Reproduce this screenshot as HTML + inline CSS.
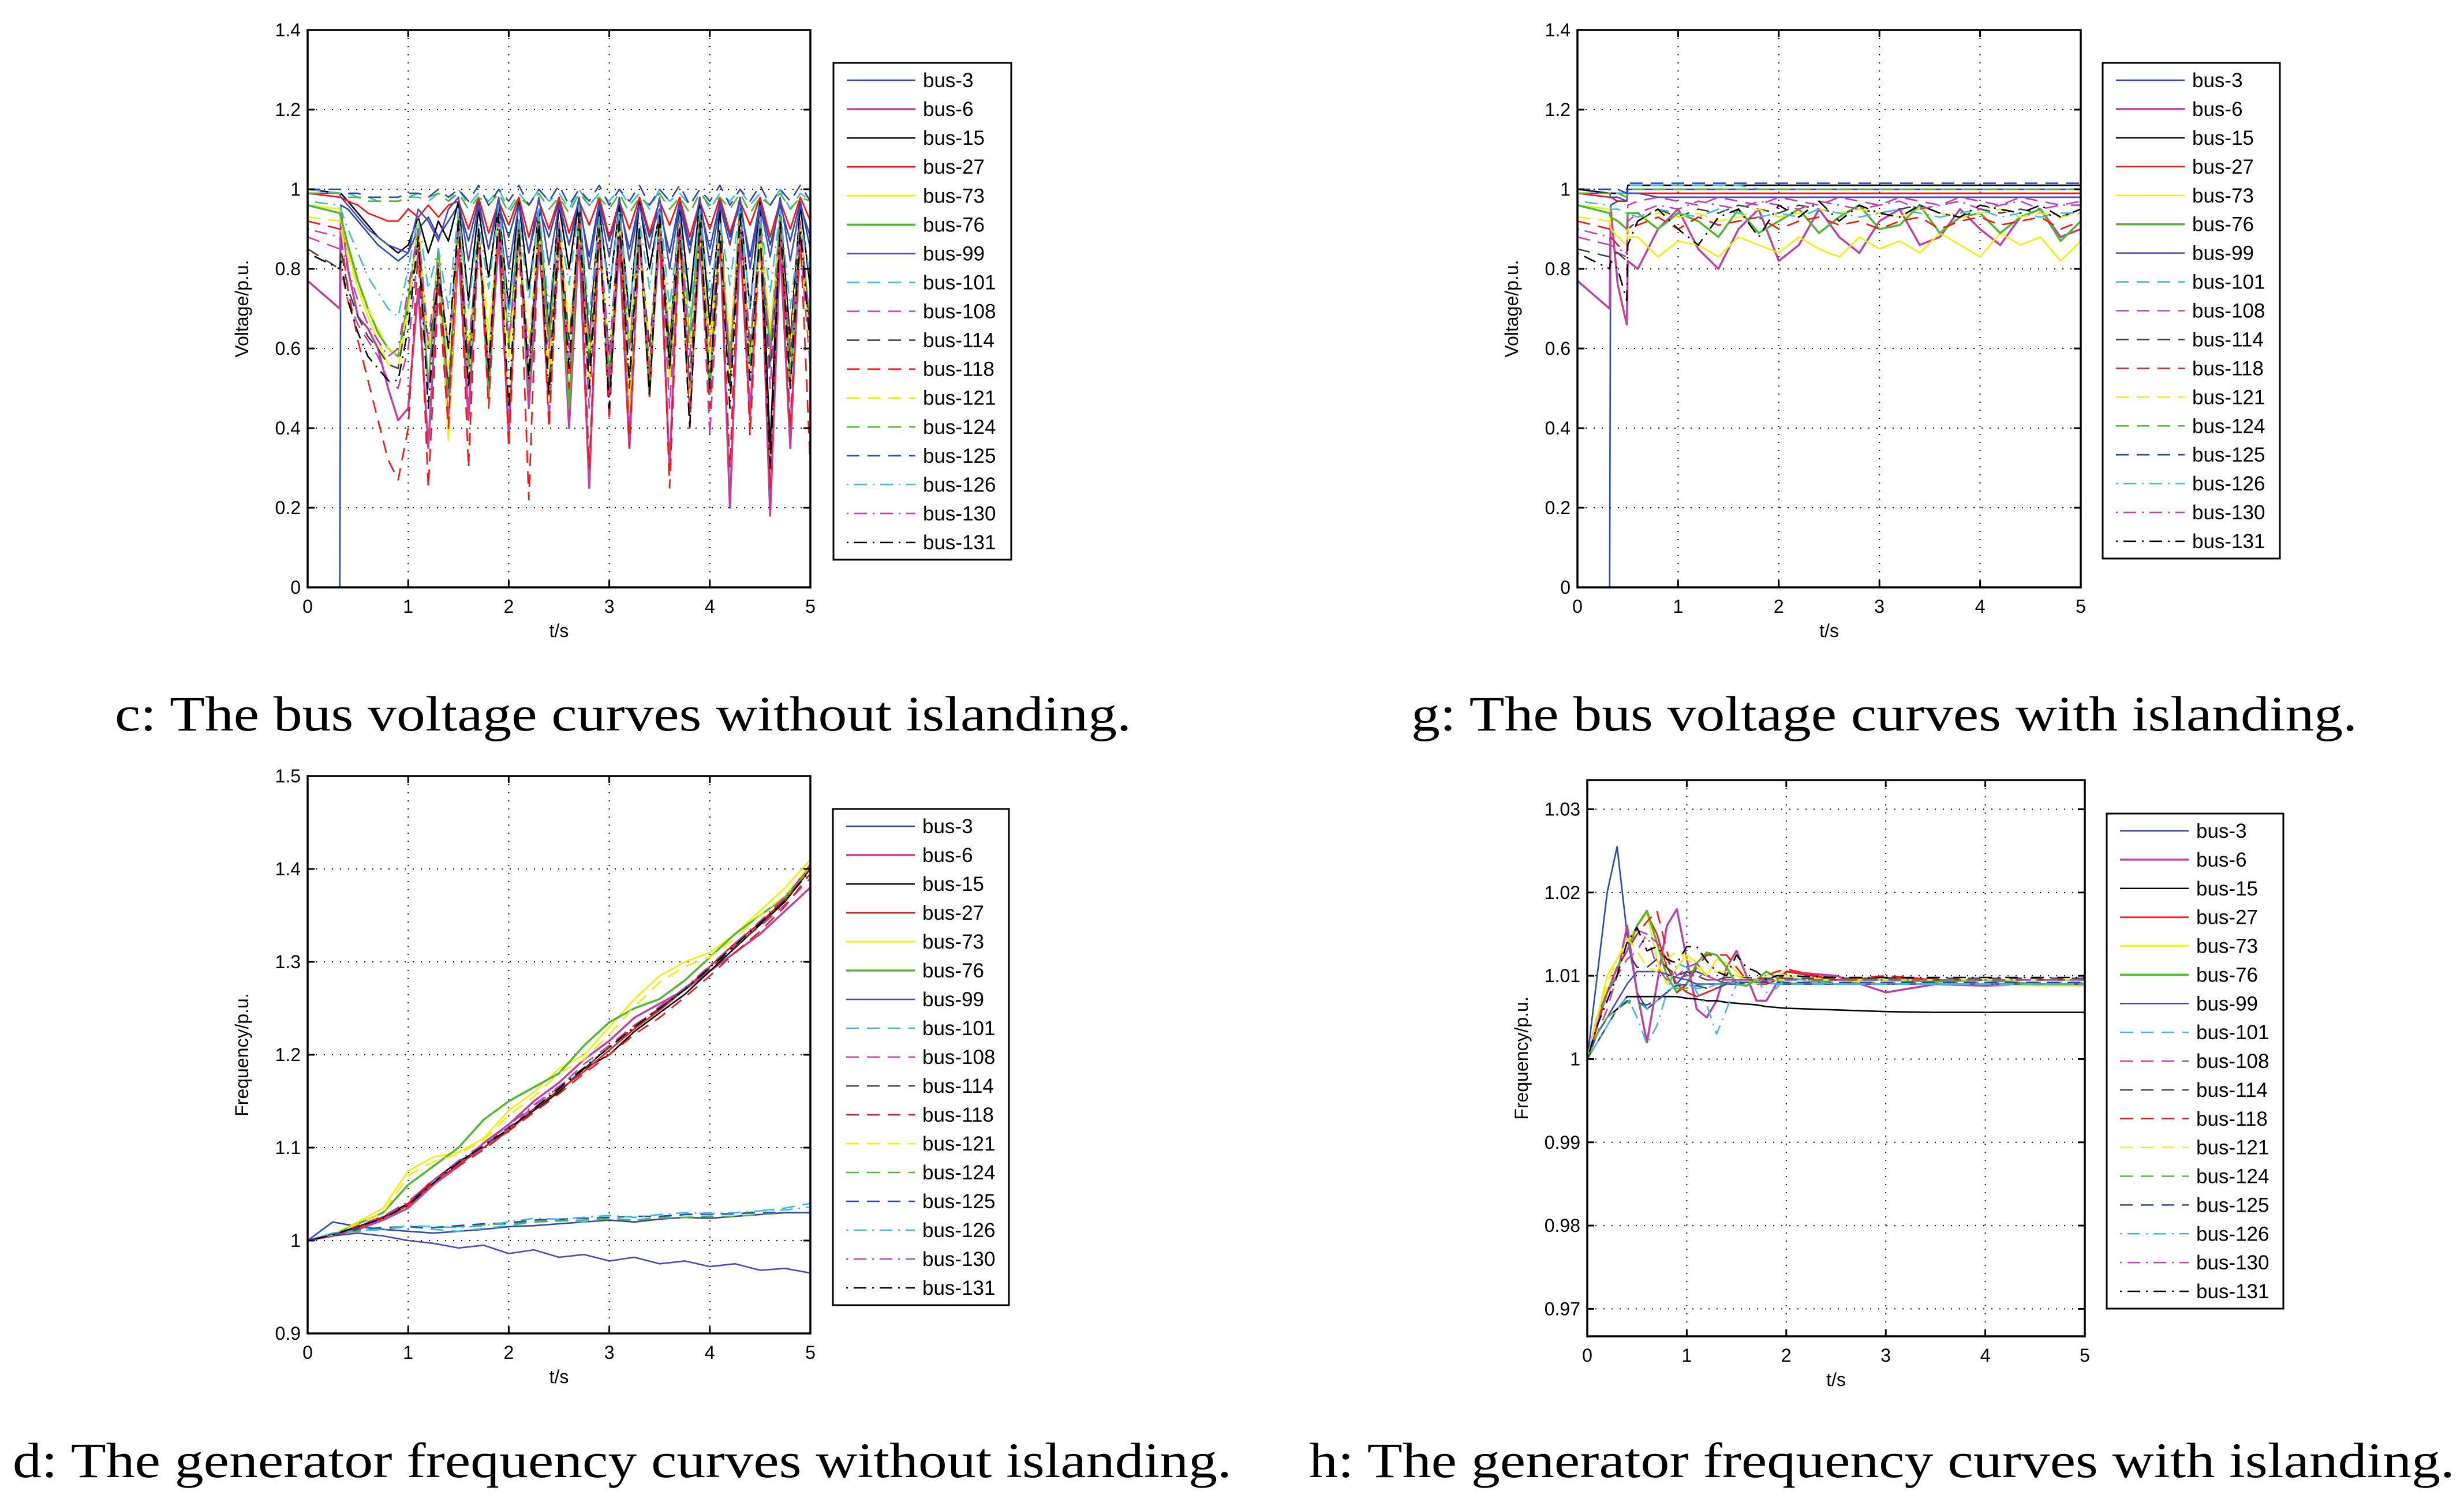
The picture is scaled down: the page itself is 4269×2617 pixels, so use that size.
<!DOCTYPE html>
<html><head><meta charset="utf-8"><style>
body{margin:0;background:#fff}
svg{display:block}
text{font-family:"Liberation Sans",Arial,sans-serif}
text.cap{font-family:"Liberation Serif","Times New Roman",serif}
</style></head><body>
<svg id="fig" width="4269" height="2617" viewBox="0 0 4269 2617" xmlns="http://www.w3.org/2000/svg">
<rect width="4269" height="2617" fill="#fff"/>
<text class="cap" font-family="Liberation Serif, serif" x="199" y="1266" font-size="86" textLength="1761" lengthAdjust="spacingAndGlyphs">c: The bus voltage curves without islanding.</text>
<text class="cap" font-family="Liberation Serif, serif" x="2445" y="1266" font-size="86" textLength="1639" lengthAdjust="spacingAndGlyphs">g: The bus voltage curves with islanding.</text>
<text class="cap" font-family="Liberation Serif, serif" x="22" y="2560" font-size="86" textLength="2112" lengthAdjust="spacingAndGlyphs">d: The generator frequency curves without islanding.</text>
<text class="cap" font-family="Liberation Serif, serif" x="2268" y="2560" font-size="86" textLength="1985" lengthAdjust="spacingAndGlyphs">h: The generator frequency curves with islanding.</text>
</svg>
<script>
const names=["bus-3","bus-6","bus-15","bus-27","bus-73","bus-76","bus-99","bus-101","bus-108","bus-114","bus-118","bus-121","bus-124","bus-125","bus-126","bus-130","bus-131"];
const colors=["#2b48b0","#c040a0","#000000","#ff1010","#f0f000","#50b830","#4848c0","#40b8e0","#c040b0","#404040","#ff1010","#f0f000","#50b830","#2b48b0","#40b8e0","#c040b0","#000000"];
const styles=["s","s","s","s","s","s","s","d","d","d","d","d","d","d","dd","dd","dd"];
const xTicks=[0,1,2,3,4,5];
const yTicksV=[0,0.2,0.4,0.6,0.8,1,1.2,1.4];
const yTickLabelsV=["0","0.2","0.4","0.6","0.8","1","1.2","1.4"];
const yTicksFD=[0.9,1,1.1,1.2,1.3,1.4,1.5];
const yTickLabelsFD=["0.9","1","1.1","1.2","1.3","1.4","1.5"];
const yTicksFH=[0.97,0.98,0.99,1,1.01,1.02,1.03];
const yTickLabelsFH=["0.97","0.98","0.99","1","1.01","1.02","1.03"];

// panel c: voltage without islanding
const tC=[0,0.32,0.33,0.4,0.5,0.6,0.7,0.8,0.9,1.0,1.1,1.2,1.3,1.4,1.5,1.6,1.7,1.8,1.9,2.0,2.1,2.2,2.3,2.4,2.5,2.6,2.7,2.8,2.9,3.0,3.1,3.2,3.3,3.4,3.5,3.6,3.7,3.8,3.9,4.0,4.1,4.2,4.3,4.4,4.5,4.6,4.7,4.8,4.9,5.0];
const vC=[
[0,0,0.96,0.95,0.92,0.89,0.86,0.84,0.82,0.84,0.9,0.93,0.88,0.92, 0.96,0.87,0.97,0.85,0.96,0.88,0.97,0.84,0.95,0.88,0.97,0.86,0.96,0.83,0.97,0.87,0.96,0.85,0.97,0.88,0.95,0.84,0.97,0.86,0.96,0.85,0.97,0.88,0.96,0.83,0.97,0.86,0.96,0.87,0.97,0.85],
[0.77,0.7,0.95,0.8,0.68,0.65,0.6,0.5,0.42,0.45,0.75,0.35,0.8,0.4, 0.85,0.42,0.9,0.5,0.88,0.38,0.92,0.45,0.86,0.55,0.9,0.4,0.88,0.25,0.92,0.48,0.86,0.35,0.9,0.52,0.88,0.3,0.92,0.45,0.86,0.5,0.9,0.2,0.88,0.42,0.92,0.18,0.86,0.35,0.9,0.6],
[1.0,0.99,0.99,0.97,0.94,0.91,0.88,0.86,0.84,0.86,0.93,0.84,0.92,0.87, 0.97,0.72,0.95,0.78,0.96,0.7,0.97,0.75,0.94,0.65,0.96,0.8,0.97,0.62,0.95,0.74,0.96,0.68,0.97,0.8,0.94,0.6,0.96,0.72,0.97,0.66,0.95,0.55,0.96,0.7,0.97,0.35,0.95,0.62,0.96,0.75],
[0.99,0.98,0.98,0.97,0.96,0.94,0.93,0.92,0.92,0.95,0.93,0.96,0.93,0.96, 0.97,0.9,0.98,0.89,0.97,0.91,0.98,0.88,0.97,0.9,0.98,0.89,0.97,0.91,0.98,0.88,0.97,0.9,0.98,0.89,0.97,0.91,0.98,0.88,0.97,0.9,0.98,0.89,0.97,0.91,0.98,0.88,0.97,0.9,0.98,0.92],
[0.96,0.95,0.92,0.85,0.75,0.68,0.62,0.56,0.55,0.7,0.92,0.6,0.8,0.37, 0.9,0.5,0.88,0.6,0.92,0.45,0.86,0.55,0.9,0.48,0.88,0.62,0.92,0.5,0.86,0.58,0.9,0.45,0.88,0.6,0.92,0.52,0.86,0.48,0.9,0.62,0.88,0.5,0.92,0.55,0.86,0.58,0.9,0.5,0.88,0.6],
[0.96,0.94,0.93,0.86,0.77,0.7,0.64,0.6,0.58,0.72,0.9,0.5,0.85,0.48, 0.93,0.55,0.9,0.48,0.94,0.6,0.91,0.5,0.93,0.62,0.9,0.45,0.94,0.58,0.91,0.52,0.93,0.6,0.9,0.48,0.94,0.56,0.91,0.62,0.93,0.5,0.9,0.58,0.94,0.55,0.91,0.6,0.93,0.52,0.9,0.65],
[0.99,0.99,0.98,0.96,0.93,0.9,0.88,0.86,0.85,0.84,0.95,0.92,0.87,0.95, 0.98,0.82,0.96,0.85,0.98,0.8,0.96,0.84,0.98,0.81,0.96,0.86,0.98,0.8,0.96,0.83,0.98,0.82,0.96,0.85,0.98,0.8,0.96,0.84,0.98,0.81,0.96,0.86,0.98,0.8,0.96,0.83,0.98,0.82,0.96,0.88],
[1.0,0.99,0.99,0.99,0.98,0.98,0.97,0.97,0.97,0.98,0.98,0.97,0.99,0.97, 1.0,0.96,0.99,0.97,1.0,0.95,0.99,0.96,1.0,0.97,0.99,0.95,1.0,0.96,0.99,0.97,1.0,0.96,0.99,0.95,1.0,0.97,0.99,0.96,1.0,0.95,0.99,0.97,1.0,0.96,0.99,0.96,1.0,0.95,0.99,0.97],
[0.88,0.85,0.8,0.72,0.66,0.62,0.58,0.52,0.5,0.6,0.85,0.5,0.8,0.42, 0.9,0.45,0.86,0.55,0.92,0.4,0.88,0.5,0.9,0.42,0.86,0.6,0.92,0.45,0.88,0.52,0.9,0.4,0.86,0.55,0.92,0.45,0.88,0.5,0.9,0.38,0.86,0.55,0.92,0.45,0.88,0.5,0.9,0.42,0.86,0.55],
[0.85,0.8,0.85,0.75,0.68,0.63,0.6,0.56,0.55,0.7,0.88,0.6,0.78,0.5, 0.9,0.58,0.88,0.52,0.92,0.6,0.88,0.55,0.9,0.5,0.92,0.62,0.88,0.55,0.9,0.58,0.92,0.5,0.88,0.6,0.9,0.55,0.92,0.52,0.88,0.58,0.9,0.5,0.92,0.6,0.88,0.55,0.9,0.58,0.92,0.62],
[0.92,0.9,0.88,0.75,0.62,0.52,0.42,0.32,0.27,0.4,0.85,0.25,0.75,0.4, 0.92,0.3,0.9,0.45,0.94,0.35,0.9,0.22,0.92,0.4,0.88,0.5,0.94,0.3,0.9,0.42,0.92,0.35,0.88,0.48,0.94,0.25,0.9,0.4,0.92,0.45,0.88,0.3,0.94,0.38,0.9,0.25,0.92,0.4,0.88,0.3],
[0.93,0.92,0.9,0.83,0.75,0.7,0.65,0.6,0.58,0.7,0.9,0.6,0.82,0.55, 0.9,0.6,0.88,0.65,0.92,0.58,0.88,0.62,0.9,0.55,0.92,0.65,0.88,0.6,0.9,0.58,0.92,0.62,0.88,0.55,0.9,0.65,0.92,0.6,0.88,0.58,0.9,0.62,0.92,0.55,0.88,0.65,0.9,0.6,0.92,0.58],
[0.99,0.99,0.99,0.98,0.98,0.97,0.97,0.97,0.97,0.98,0.99,0.98,0.99,0.97, 0.99,0.95,0.98,0.96,0.99,0.94,0.98,0.96,0.99,0.95,0.98,0.94,0.99,0.96,0.98,0.95,0.99,0.94,0.98,0.96,0.99,0.95,0.98,0.94,0.99,0.96,0.98,0.95,0.99,0.94,0.98,0.96,0.99,0.95,0.98,0.97],
[1.0,1.0,1.0,0.99,0.99,0.98,0.98,0.98,0.98,0.99,0.99,0.98,1.0,0.98, 1.0,0.97,1.01,0.96,1.0,0.97,1.01,0.96,1.0,0.97,1.01,0.96,1.0,0.97,1.01,0.96,1.0,0.97,1.01,0.96,1.0,0.97,1.01,0.96,1.0,0.97,1.01,0.96,1.0,0.97,1.01,0.96,1.0,0.97,1.01,0.97],
[0.97,0.96,0.95,0.9,0.84,0.78,0.74,0.7,0.68,0.8,0.93,0.75,0.85,0.7, 0.95,0.7,0.92,0.75,0.96,0.68,0.93,0.72,0.95,0.7,0.92,0.76,0.96,0.68,0.93,0.74,0.95,0.7,0.92,0.75,0.96,0.7,0.93,0.68,0.95,0.72,0.92,0.76,0.96,0.7,0.93,0.74,0.95,0.7,0.92,0.78],
[0.9,0.88,0.86,0.8,0.72,0.66,0.62,0.58,0.6,0.75,0.9,0.62,0.82,0.6, 0.9,0.6,0.88,0.55,0.92,0.62,0.88,0.58,0.9,0.6,0.92,0.55,0.88,0.62,0.9,0.58,0.92,0.6,0.88,0.55,0.9,0.62,0.92,0.58,0.88,0.6,0.9,0.55,0.92,0.62,0.88,0.58,0.9,0.6,0.92,0.65],
[0.84,0.8,0.82,0.72,0.64,0.58,0.55,0.52,0.52,0.65,0.88,0.45,0.8,0.6, 0.92,0.5,0.9,0.55,0.94,0.45,0.9,0.52,0.92,0.48,0.9,0.55,0.94,0.5,0.9,0.45,0.92,0.52,0.9,0.48,0.94,0.55,0.9,0.4,0.92,0.5,0.9,0.45,0.94,0.52,0.9,0.3,0.92,0.5,0.9,0.6]];

// panel g: voltage with islanding
const tG=[0,0.32,0.33,0.4,0.49,0.5,0.6,0.8,1.0,1.2,1.4,1.6,1.8,2.0,2.2,2.4,2.6,2.8,3.0,3.2,3.4,3.6,3.8,4.0,4.2,4.4,4.6,4.8,5.0];
const vG=[
[0,0,0.96,0.97,0.97,1.0, 1.0,1.0,1.0,1.0,1.0,1.0,1.0,1.0,1.0,1.0,1.0,1.0,1.0,1.0,1.0,1.0,1.0,1.0,1.0,1.0,1.0,1.0,1.0],
[0.77,0.7,0.95,0.76,0.66,0.82, 0.8,0.9,0.95,0.85,0.8,0.9,0.95,0.82,0.86,0.95,0.88,0.84,0.92,0.95,0.86,0.88,0.95,0.9,0.86,0.93,0.95,0.88,0.9],
[1.0,0.99,0.99,0.99,0.99,1.01, 1.01,1.01,1.01,1.01,1.01,1.01,1.01,1.01,1.01,1.01,1.01,1.01,1.01,1.01,1.01,1.01,1.01,1.01,1.01,1.01,1.01,1.01,1.01],
[0.99,0.98,0.98,0.97,0.97,0.99, 0.99,0.99,0.99,0.99,0.99,0.99,0.99,0.99,0.99,0.99,0.99,0.99,0.99,0.99,0.99,0.99,0.99,0.99,0.99,0.99,0.99,0.99,0.99],
[0.96,0.95,0.9,0.88,0.86,0.88, 0.88,0.83,0.87,0.86,0.83,0.88,0.86,0.84,0.88,0.85,0.83,0.88,0.85,0.87,0.84,0.89,0.86,0.83,0.89,0.86,0.88,0.82,0.87],
[0.96,0.94,0.93,0.92,0.9,0.94, 0.94,0.9,0.94,0.92,0.88,0.95,0.89,0.92,0.95,0.89,0.93,0.96,0.9,0.91,0.96,0.89,0.93,0.94,0.89,0.93,0.95,0.87,0.92],
[0.99,0.99,0.98,0.98,0.97,0.99, 0.99,0.98,0.98,0.98,0.98,0.98,0.98,0.98,0.98,0.98,0.98,0.98,0.98,0.98,0.98,0.98,0.98,0.98,0.98,0.98,0.98,0.98,0.98],
[1.0,1.0,0.99,0.99,0.99,1.01, 1.01,1.01,1.01,1.01,1.01,1.01,1.0,1.0,1.0,1.0,1.0,1.0,1.0,1.0,1.0,1.0,1.0,1.0,1.0,1.0,1.0,1.0,1.0],
[0.88,0.86,0.85,0.84,0.83,0.96, 0.97,0.98,0.97,0.96,0.98,0.97,0.96,0.98,0.97,0.96,0.98,0.97,0.96,0.98,0.97,0.96,0.98,0.97,0.96,0.98,0.97,0.96,0.97],
[0.85,0.83,0.84,0.84,0.82,0.9, 0.92,0.95,0.93,0.95,0.94,0.96,0.95,0.94,0.96,0.95,0.94,0.95,0.94,0.95,0.96,0.94,0.93,0.95,0.94,0.95,0.94,0.93,0.95],
[0.92,0.9,0.88,0.86,0.84,0.92, 0.91,0.93,0.9,0.93,0.91,0.92,0.93,0.9,0.92,0.93,0.91,0.92,0.9,0.92,0.93,0.9,0.92,0.93,0.91,0.92,0.93,0.9,0.92],
[0.93,0.92,0.9,0.88,0.87,0.9, 0.92,0.94,0.93,0.94,0.92,0.93,0.95,0.93,0.94,0.95,0.94,0.95,0.94,0.93,0.95,0.94,0.93,0.94,0.95,0.93,0.94,0.93,0.94],
[0.99,0.99,0.99,0.99,0.98,1.0, 1.0,1.0,1.0,1.0,1.0,1.0,1.0,1.0,1.0,1.0,1.0,1.0,1.0,1.0,1.0,1.0,1.0,1.0,1.0,1.0,1.0,1.0,1.0],
[1.0,1.0,1.0,1.0,0.99,1.015, 1.015,1.015,1.015,1.015,1.015,1.015,1.015,1.015,1.015,1.015,1.015,1.015,1.015,1.015,1.015,1.015,1.015,1.015,1.015,1.015,1.015,1.015,1.015],
[0.97,0.96,0.95,0.95,0.94,0.94, 0.93,0.95,0.94,0.93,0.95,0.94,0.93,0.94,0.93,0.95,0.94,0.93,0.94,0.95,0.94,0.93,0.94,0.95,0.93,0.94,0.93,0.94,0.94],
[0.9,0.88,0.86,0.85,0.84,0.92, 0.94,0.96,0.95,0.97,0.96,0.95,0.97,0.96,0.95,0.97,0.96,0.95,0.96,0.97,0.95,0.96,0.97,0.95,0.96,0.97,0.95,0.96,0.96],
[0.84,0.8,0.82,0.8,0.72,0.86, 0.92,0.95,0.9,0.86,0.93,0.95,0.88,0.96,0.93,0.97,0.92,0.96,0.94,0.93,0.96,0.94,0.93,0.96,0.95,0.94,0.96,0.93,0.95]];

// panel d: frequency without islanding
const tD=[0,0.25,0.5,0.75,1,1.25,1.5,1.75,2,2.25,2.5,2.75,3,3.25,3.5,3.75,4,4.25,4.5,4.75,5];
const vD=[
[1,1.02,1.015,1.012,1.01,1.008,1.01,1.012,1.015,1.016,1.018,1.02,1.022,1.02,1.023,1.025,1.024,1.026,1.028,1.03,1.03],
[1,1.005,1.012,1.022,1.035,1.06,1.08,1.105,1.125,1.15,1.17,1.195,1.215,1.24,1.255,1.27,1.29,1.31,1.33,1.355,1.38],
[1,1.006,1.015,1.025,1.04,1.065,1.085,1.1,1.12,1.14,1.16,1.185,1.2,1.225,1.245,1.265,1.29,1.315,1.34,1.365,1.4],
[1,1.005,1.014,1.024,1.038,1.062,1.082,1.1,1.118,1.142,1.162,1.182,1.205,1.228,1.248,1.27,1.295,1.32,1.342,1.368,1.405],
[1,1.006,1.02,1.035,1.075,1.09,1.095,1.11,1.14,1.16,1.185,1.2,1.23,1.26,1.285,1.3,1.31,1.33,1.355,1.38,1.41],
[1,1.006,1.018,1.03,1.06,1.08,1.1,1.13,1.15,1.165,1.18,1.21,1.235,1.25,1.26,1.28,1.305,1.33,1.35,1.37,1.4],
[1,1.005,1.008,1.005,1.0,0.997,0.992,0.995,0.986,0.99,0.982,0.985,0.978,0.982,0.975,0.978,0.972,0.975,0.968,0.97,0.965],
[1,1.008,1.01,1.012,1.015,1.012,1.01,1.013,1.016,1.02,1.022,1.02,1.024,1.022,1.025,1.028,1.03,1.028,1.032,1.035,1.04],
[1,1.005,1.013,1.023,1.036,1.06,1.083,1.1,1.12,1.145,1.165,1.19,1.21,1.232,1.25,1.272,1.292,1.318,1.338,1.362,1.39],
[1,1.005,1.014,1.025,1.04,1.064,1.085,1.102,1.122,1.14,1.162,1.185,1.208,1.23,1.25,1.27,1.293,1.316,1.34,1.366,1.4],
[1,1.006,1.016,1.026,1.04,1.066,1.08,1.098,1.118,1.138,1.158,1.18,1.2,1.222,1.24,1.262,1.285,1.31,1.333,1.36,1.395],
[1,1.006,1.018,1.03,1.07,1.085,1.093,1.108,1.135,1.155,1.18,1.195,1.222,1.252,1.278,1.295,1.305,1.325,1.35,1.372,1.405],
[1,1.007,1.01,1.013,1.015,1.014,1.015,1.017,1.018,1.02,1.021,1.022,1.023,1.022,1.024,1.025,1.026,1.026,1.028,1.03,1.03],
[1,1.007,1.012,1.014,1.015,1.014,1.016,1.018,1.019,1.022,1.023,1.024,1.025,1.026,1.026,1.028,1.028,1.029,1.03,1.03,1.03],
[1,1.008,1.011,1.012,1.016,1.015,1.014,1.016,1.02,1.024,1.023,1.025,1.027,1.025,1.028,1.03,1.029,1.03,1.032,1.033,1.036],
[1,1.005,1.015,1.026,1.042,1.065,1.086,1.104,1.124,1.146,1.166,1.186,1.208,1.23,1.252,1.272,1.296,1.32,1.344,1.37,1.402],
[1,1.006,1.015,1.024,1.038,1.062,1.084,1.102,1.12,1.142,1.164,1.186,1.208,1.23,1.25,1.27,1.294,1.318,1.342,1.366,1.398]];

// panel h: frequency with islanding
const tH=[0,0.1,0.2,0.3,0.4,0.5,0.6,0.7,0.8,0.9,1.0,1.1,1.2,1.3,1.4,1.5,1.6,1.7,1.8,1.9,2.0,2.5,3.0,3.5,4.0,4.5,5.0];
const vH=[
[1,1.01,1.02,1.0255,1.015,1.008,1.006,1.007,1.008,1.009,1.0105,1.0105,1.01,1.0095,1.009,1.009,1.0092,1.0095,1.0093,1.009,1.009,1.009,1.009,1.009,1.009,1.009,1.009],
[1,1.005,1.008,1.01,1.016,1.008,1.002,1.009,1.016,1.018,1.012,1.006,1.005,1.007,1.011,1.013,1.01,1.007,1.007,1.009,1.0105,1.01,1.008,1.009,1.0088,1.009,1.009],
[1,1.003,1.005,1.006,1.0075,1.0075,1.0075,1.0075,1.0075,1.0075,1.0073,1.0072,1.007,1.007,1.0068,1.0067,1.0066,1.0065,1.0063,1.0062,1.0061,1.0059,1.0057,1.0056,1.0056,1.0056,1.0056],
[1,1.004,1.008,1.011,1.013,1.016,1.0175,1.015,1.011,1.009,1.008,1.0075,1.008,1.0085,1.009,1.0095,1.0095,1.009,1.009,1.0095,1.0105,1.0095,1.0098,1.0095,1.0095,1.0095,1.0095],
[1,1.005,1.01,1.012,1.014,1.016,1.0175,1.012,1.009,1.011,1.0125,1.0115,1.01,1.012,1.0115,1.0105,1.0095,1.009,1.01,1.0105,1.01,1.0095,1.009,1.009,1.009,1.0088,1.0088],
[1,1.004,1.008,1.011,1.013,1.016,1.0178,1.014,1.01,1.008,1.009,1.0115,1.0128,1.0125,1.011,1.009,1.0088,1.0095,1.0105,1.0098,1.009,1.0095,1.0095,1.0093,1.0095,1.009,1.009],
[1,1.003,1.005,1.007,1.009,1.0105,1.0105,1.0105,1.0102,1.0098,1.0095,1.009,1.009,1.009,1.0092,1.0092,1.0092,1.0092,1.0092,1.009,1.009,1.009,1.009,1.009,1.009,1.009,1.009],
[1,1.002,1.004,1.006,1.007,1.007,1.006,1.007,1.008,1.009,1.009,1.0085,1.0085,1.009,1.0092,1.0092,1.0092,1.0092,1.0092,1.009,1.009,1.009,1.009,1.009,1.009,1.009,1.009],
[1,1.003,1.006,1.01,1.012,1.013,1.015,1.014,1.012,1.01,1.011,1.0115,1.01,1.0095,1.0095,1.0095,1.0095,1.0095,1.0095,1.0095,1.0095,1.0095,1.0095,1.0095,1.0095,1.0095,1.0095],
[1,1.004,1.008,1.011,1.013,1.011,1.011,1.012,1.011,1.01,1.0105,1.01,1.0095,1.0095,1.0098,1.0098,1.0098,1.0097,1.0097,1.0097,1.0097,1.0097,1.0097,1.0097,1.0097,1.0097,1.0097],
[1,1.004,1.008,1.011,1.013,1.015,1.0165,1.0178,1.013,1.008,1.009,1.011,1.0125,1.0125,1.0125,1.011,1.0095,1.0095,1.01,1.0105,1.0108,1.0095,1.01,1.0095,1.0095,1.0095,1.0095],
[1,1.005,1.009,1.012,1.0145,1.013,1.011,1.0105,1.012,1.013,1.012,1.011,1.01,1.0105,1.0105,1.01,1.0095,1.0095,1.0095,1.0095,1.0095,1.0095,1.0095,1.0095,1.0095,1.0095,1.0095],
[1,1.003,1.005,1.006,1.0068,1.0065,1.0065,1.007,1.008,1.0085,1.0085,1.0088,1.009,1.009,1.009,1.0092,1.0092,1.0092,1.0092,1.0092,1.0092,1.0092,1.0092,1.0092,1.0092,1.0092,1.0092],
[1,1.002,1.004,1.006,1.007,1.0068,1.0065,1.007,1.008,1.0088,1.009,1.0088,1.0085,1.0085,1.009,1.0092,1.0092,1.0092,1.0092,1.0092,1.0092,1.0092,1.0092,1.0092,1.0092,1.0092,1.0092],
[1,1.002,1.004,1.006,1.0075,1.005,1.0018,1.004,1.008,1.0115,1.011,1.008,1.0065,1.003,1.006,1.009,1.01,1.0095,1.008,1.0085,1.0098,1.009,1.009,1.009,1.009,1.009,1.009],
[1,1.004,1.008,1.011,1.013,1.0155,1.015,1.011,1.0095,1.0098,1.01,1.01,1.0095,1.0095,1.0095,1.0095,1.0095,1.0095,1.0095,1.0095,1.0095,1.0095,1.0095,1.0095,1.0095,1.0095,1.0095],
[1,1.004,1.007,1.01,1.014,1.0158,1.013,1.0135,1.012,1.0115,1.0135,1.0135,1.0118,1.0105,1.01,1.0125,1.011,1.0105,1.0095,1.01,1.01,1.0098,1.0098,1.0098,1.0098,1.0098,1.0098]];

const NS="http://www.w3.org/2000/svg";
const svg=document.getElementById('fig');
function mk(tag,attrs,parent){const e=document.createElementNS(NS,tag);for(const k in attrs)e.setAttribute(k,attrs[k]);(parent||svg).appendChild(e);return e;}
function dashFor(s){return s==="d"?"22,14":(s==="dd"?"3,10,22,10":"none");}

function panel(id,box,ymin,ymax,yt,ytl,ylabel,t,vals,leg){
  const g=mk('g',{});
  
  
  const sx=v=>box.x0+(v-0)/(5-0)*(box.x1-box.x0);
  const sy=v=>box.y1-(v-ymin)/(ymax-ymin)*(box.y1-box.y0);
  xTicks.forEach(v=>{if(v>0&&v<5){const l=mk('line',{x1:sx(v),x2:sx(v),y1:box.y0,y2:box.y1,stroke:'#000','stroke-width':2,'stroke-dasharray':'2,12'},g);}});
  yt.forEach(v=>{const y=sy(v);if(y>box.y0+2&&y<box.y1-2){const l=mk('line',{x1:box.x0,x2:box.x1,y1:y,y2:y,stroke:'#000','stroke-width':2,'stroke-dasharray':'2,12'},g);}});
  const clip=mk('clipPath',{id:'clip-'+id},g);
  mk('rect',{x:box.x0,y:box.y0,width:box.x1-box.x0,height:box.y1-box.y0},clip);
  const sg=mk('g',{'clip-path':'url(#clip-'+id+')'},g);
  vals.forEach((arr,i)=>{
    let d='';const n=Math.min(arr.length,t.length);
    for(let k=0;k<n;k++)d+=(k?'L':'M')+sx(t[k]).toFixed(1)+','+sy(arr[k]).toFixed(1);
    const p=mk('path',{d:d,fill:'none',stroke:colors[i],'stroke-width':(i===1||i===5?3.5:2.6),'stroke-dasharray':dashFor(styles[i]),'stroke-linejoin':'round'},sg);
    
    
  });
  const fr=mk('rect',{x:box.x0,y:box.y0,width:box.x1-box.x0,height:box.y1-box.y0,fill:'none',stroke:'#000','stroke-width':3.5},g);
  
  
  xTicks.forEach(v=>{
    mk('line',{x1:sx(v),x2:sx(v),y1:box.y1,y2:box.y1-12,stroke:'#000','stroke-width':3},g);
    mk('line',{x1:sx(v),x2:sx(v),y1:box.y0,y2:box.y0+12,stroke:'#000','stroke-width':3},g);
    const tx=mk('text',{x:sx(v),y:box.y1+44,'font-size':32,'text-anchor':'middle'},g);tx.textContent=String(v);
    
    
  });
  yt.forEach((v,i)=>{
    const y=sy(v);
    mk('line',{x1:box.x0,x2:box.x0+12,y1:y,y2:y,stroke:'#000','stroke-width':3},g);
    mk('line',{x1:box.x1,x2:box.x1-12,y1:y,y2:y,stroke:'#000','stroke-width':3},g);
    const tx=mk('text',{x:box.x0-12,y:y+11,'font-size':32,'text-anchor':'end'},g);tx.textContent=ytl[i];
    
    
  });
  const xl=mk('text',{x:(box.x0+box.x1)/2,y:box.y1+86,'font-size':32,'text-anchor':'middle'},g);xl.textContent='t/s';
  
  
  const cx=box.x0-103,cy=(box.y0+box.y1)/2;
  const yl=mk('text',{x:cx,y:cy,'font-size':32,'text-anchor':'middle',transform:'rotate(-90 '+cx+' '+cy+')'},g);yl.textContent=ylabel;
  
  
  const lg=mk('g',{},g);
  
  
  mk('rect',{x:leg.x0,y:leg.y0,width:leg.x1-leg.x0,height:leg.y1-leg.y0,fill:'#fff',stroke:'#000','stroke-width':3},lg);
  const step=(leg.y1-leg.y0-60)/16;
  names.forEach((nm,i)=>{
    const y=leg.y0+30+i*step;
    const e=mk('g',{},lg);
    
    
    mk('line',{x1:leg.x0+23,x2:leg.x0+142,y1:y,y2:y,stroke:colors[i],'stroke-width':(i===1||i===5?3.5:2.6),'stroke-dasharray':dashFor(styles[i])},e);
    const tx=mk('text',{x:leg.x0+155,y:y+12,'font-size':35},e);tx.textContent=nm;
  });
}
panel('voltage-no-island',{x0:533,x1:1404,y0:52,y1:1018},0,1.4,yTicksV,yTickLabelsV,'Voltage/p.u.',tC,vC,{x0:1444,x1:1752,y0:109,y1:970});
panel('voltage-island',{x0:2733,x1:3605,y0:52,y1:1018},0,1.4,yTicksV,yTickLabelsV,'Voltage/p.u.',tG,vG,{x0:3643,x1:3950,y0:109,y1:968});
panel('freq-no-island',{x0:533,x1:1404,y0:1345,y1:2311},0.9,1.5,yTicksFD,yTickLabelsFD,'Frequency/p.u.',tD,vD,{x0:1443,x1:1748,y0:1402,y1:2262});
panel('freq-island',{x0:2750,x1:3612,y0:1352,y1:2316},0.9667,1.0335,yTicksFH,yTickLabelsFH,'Frequency/p.u.',tH,vH,{x0:3650,x1:3956,y0:1410,y1:2268});
</script>
</body></html>
